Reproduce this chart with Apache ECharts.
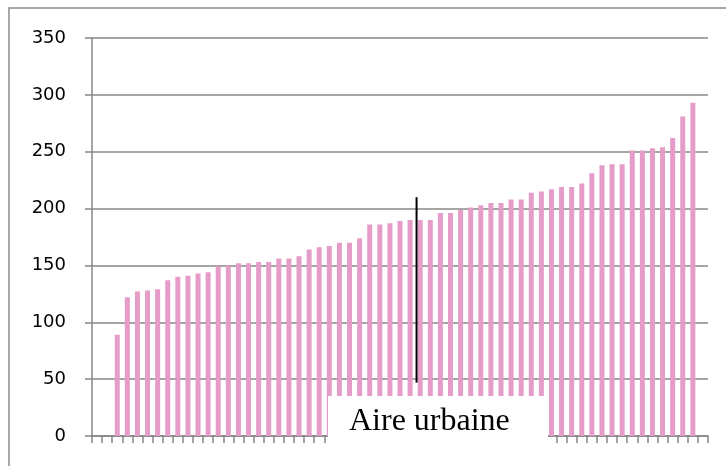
<!DOCTYPE html>
<html>
<head>
<meta charset="utf-8">
<script src="https://cdn.jsdelivr.net/npm/echarts@6/dist/echarts.min.js"></script>
<style>
  html, body { margin: 0; padding: 0; background: #fff; }
  #chart { width: 726px; height: 466px; }
</style>
</head>
<body>
<div id="chart"></div>
<script>
// valeurs par aire urbaine (triées), deux catégories vides au début et une à la fin
const values = [null, null,
  89, 122, 127, 128, 129, 137, 140, 141, 143, 144,
  149, 150, 152, 152, 153, 153, 156, 156, 158, 164,
  166, 167, 170, 170, 174, 186, 186, 187, 189, 190,
  190, 190, 196, 196, 199, 201, 203, 205, 205, 208,
  208, 214, 215, 217, 219, 219, 222, 231, 238, 239,
  239, 251, 251, 253, 254, 262, 281, 293,
  null]
const categories = values.map((v, i) => String(i + 1))
const yTicks = [0, 50, 100, 150, 200, 250, 300, 350]
const noteLabel = 'Aire urbaine'
// trait vertical : position le long de l'axe (en largeurs de catégorie) et hauteur en valeurs
const markerX = 32.14
const markerFrom = 47
const markerTo = 210

const chart = echarts.init(document.getElementById('chart'))

chart.setOption({
  animation: false,
  grid: {
    left: 92,
    right: 18,
    top: 38,
    bottom: 30
  },
  xAxis: [{
    type: 'category',
    data: categories,
    boundaryGap: true,
    axisLine: {
      lineStyle: { color: '#878787', width: 1.5 }
    },
    axisTick: {
      show: true,
      interval: 0,
      length: 7,
      lineStyle: { color: '#878787', width: 1.5 }
    },
    axisLabel: { show: false }
  }, {
    // axe caché pour placer le trait entre deux barres
    type: 'value',
    min: 0,
    max: categories.length,
    show: false
  }],
  yAxis: {
    type: 'value',
    min: yTicks[0],
    max: yTicks[yTicks.length - 1],
    interval: 50,
    axisLine: {
      show: true,
      lineStyle: { color: '#878787', width: 1.5 }
    },
    axisTick: {
      show: true,
      length: 7,
      lineStyle: { color: '#878787', width: 1.5 }
    },
    axisLabel: {
      margin: 26,
      color: '#000',
      fontFamily: 'DejaVu Sans',
      fontSize: 18
    },
    splitLine: {
      show: true,
      lineStyle: { color: '#878787', width: 1.5 }
    }
  },
  series: [{
    type: 'bar',
    data: values,
    barWidth: 5,
    itemStyle: { color: '#E69CC8' }
  }, {
    type: 'line',
    xAxisIndex: 1,
    data: [[markerX, markerFrom], [markerX, markerTo]],
    symbol: 'none',
    silent: true,
    z: 5,
    lineStyle: { color: '#000', width: 2 }
  }],
  graphic: [
    // cadre extérieur (coupé à droite et en bas)
    {
      type: 'rect',
      z: 100,
      shape: { x: 9, y: 8, width: 740, height: 480 },
      style: { fill: 'none', stroke: '#8c8c8c', lineWidth: 1.5 }
    },
    // étiquette sur fond blanc
    {
      type: 'rect',
      z: 100,
      shape: { x: 328, y: 396, width: 220, height: 64 },
      style: { fill: '#fff' }
    },
    {
      type: 'text',
      z: 101,
      left: 349,
      top: 406,
      style: {
        text: noteLabel,
        fill: '#000',
        font: '32px "Liberation Serif"'
      }
    }
  ]
})
</script>
</body>
</html>
